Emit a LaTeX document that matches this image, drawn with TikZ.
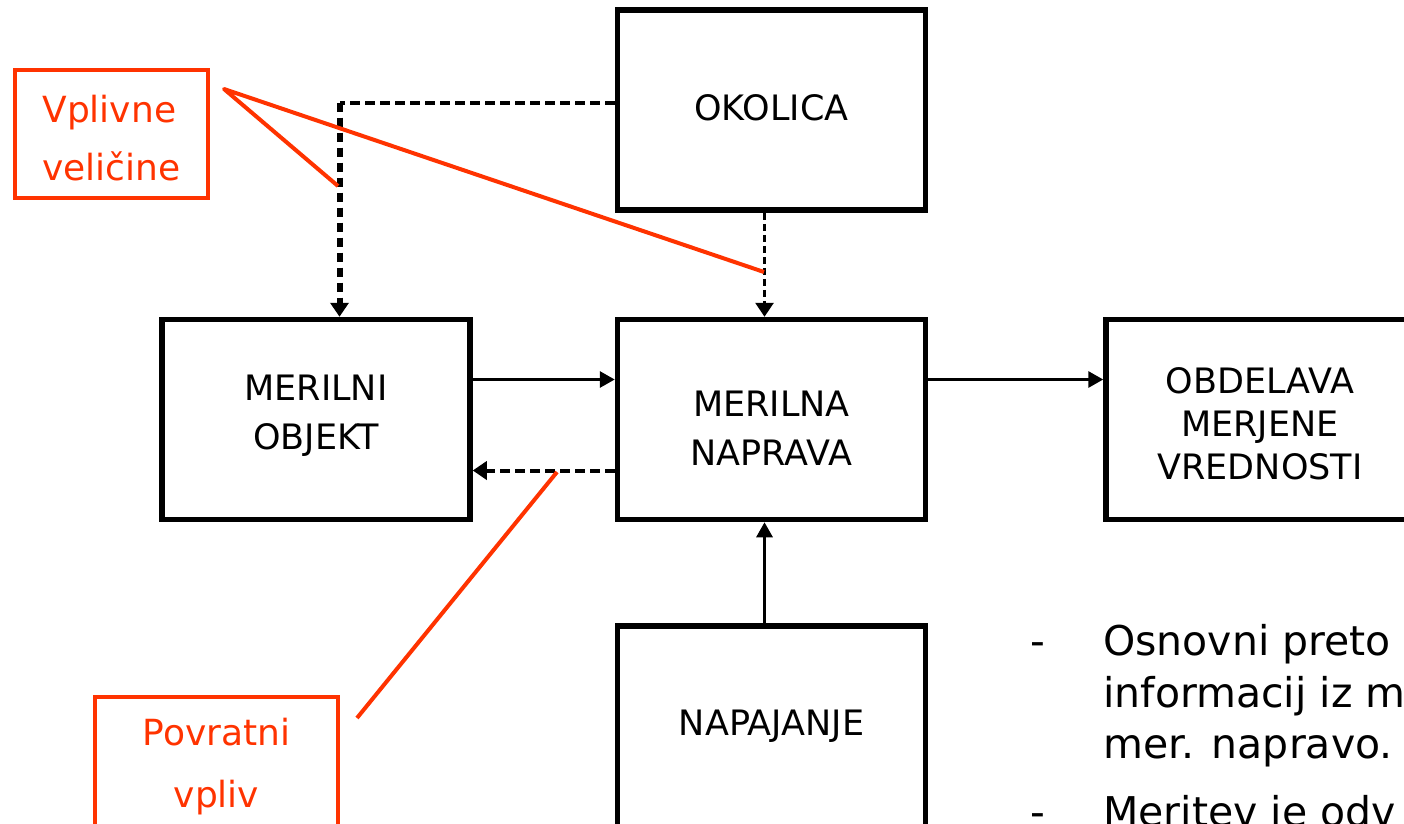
\documentclass[tikz,border=0pt]{standalone}
\usepackage{fontspec}
\setmainfont{DejaVu Sans}
\usetikzlibrary{arrows.meta,positioning}

\definecolor{annot}{RGB}{255,51,0}
\newcommand{\boxfont}{\fontsize{35}{43}\selectfont}
\newcommand{\notefont}{\fontsize{36}{58}\selectfont}
\newcommand{\listfont}{\fontsize{41}{51}\selectfont}

\begin{document}
\begin{tikzpicture}[x=1pt,y=-1pt,
		block/.style={draw,line width=5.5pt,minimum width=308pt,minimum height=200pt,
			inner sep=0pt,align=center,font=\boxfont},
		note/.style={draw=annot,text=annot,line width=4.5pt,inner sep=0pt,font=\notefont},
		flow/.style={line width=3pt,-{Triangle[length=15pt,width=16pt]}},
		back/.style={line width=4pt,dash pattern=on 10pt off 5pt,
			-{Triangle[length=14pt,width=18pt]}},
		pointer/.style={annot,line width=4pt,line join=round},
		listline/.style={anchor=base west,inner sep=0pt,font=\listfont}]

		\useasboundingbox (0,0) rectangle (1404,823);
		\clip (0,0) rectangle (1404,823);

		\node[block,text height=100pt,text depth=7.5pt] (naprava) at (771.5,419.5) {MERILNA\\[6pt]NAPRAVA};
		\node[block,text height=75pt,text depth=14.5pt,left=142pt of naprava] (objekt) {MERILNI\\[6pt]OBJEKT};
		\node[block,text height=26pt,text depth=5pt,above=104pt of naprava] (okolica) {OKOLICA};
		\node[block,text height=130pt,text depth=9.5pt,right=175pt of naprava] (obdelava) {OBDELAVA\\MERJENE\\VREDNOSTI};
		\node[block,minimum height=240pt,text height=26pt,text depth=48pt,below=101pt of naprava] (napajanje) {NAPAJANJE};

		\node[note,minimum width=193pt,minimum height=128pt,align=left,
			text height=100pt,text depth=8pt] (vplivne) at (111.5,134) {Vplivne\\veličine};
		\node[note,minimum width=243pt,minimum height=150pt,align=center,
			font=\fontsize{36}{62}\selectfont,text height=80pt,text depth=10pt]
			(povratni) at (216.5,772) {Povratni\\vpliv};

		\draw[flow] ([yshift=40pt]objekt.east) -- ([yshift=40pt]naprava.west);
		\draw[back] ([yshift=-51pt]naprava.west) -- ([yshift=-51pt]objekt.east);
		\draw[flow] ([yshift=40pt]naprava.east) -- ([yshift=40pt]obdelava.west);
		\draw[flow] ([xshift=-7pt]napajanje.north) -- ([xshift=-7pt]naprava.south);
		\draw[back,line width=3pt,dash pattern=on 7pt off 4pt]
			([xshift=-7pt]okolica.south) -- ([xshift=-7pt]naprava.north);

		% vpliv okolice na merilni objekt
		\coordinate (inlet) at ([yshift=7.5pt]okolica.west);
		\coordinate (drop) at ([xshift=23.5pt]objekt.north);
		\draw[line width=4pt,dash pattern=on 10pt off 5pt] (inlet) -- (inlet -| drop);
		\draw[back,line width=6pt,dash pattern=on 9pt off 6pt] (inlet -| drop) -- (drop);

		% rdece oznake
		\coordinate (vtip) at (224,89);
		\coordinate (vleft) at (338,186);
		\coordinate (vright) at (764,272);
		\draw[pointer] (vleft) -- (vtip) -- (vright);
		\coordinate (ptip) at (357,718);
		\coordinate (pend) at (557,472);
		\draw[pointer] (ptip) -- (pend);

		\node[listline] (dash1) at (1030,655) {-};
		\node[listline] (dash2) at (1030,826) {-};
		\foreach \y/\txt [count=\i] in {655/Osnovni preto,707/informacij iz m,
			758/mer. napravo.,826/Meritev je odv}
		{
			\node[listline] (line\i) at (1103,\y) {\txt};
		}

	\end{tikzpicture}
\end{document}
